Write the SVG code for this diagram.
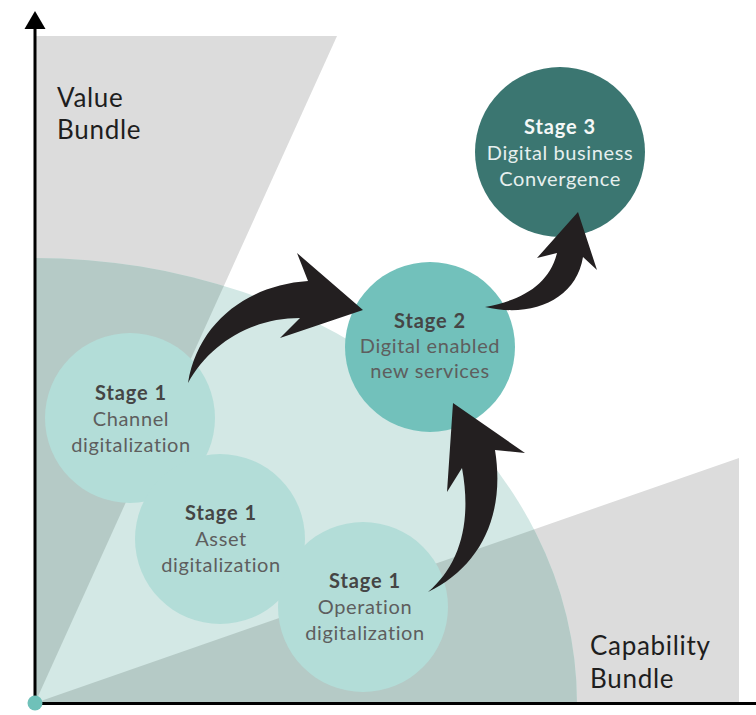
<svg xmlns="http://www.w3.org/2000/svg" width="756" height="715" viewBox="0 0 756 715">
<style>
.lbl{font-family:"Lato","Open Sans","Liberation Sans",sans-serif;font-size:26px;letter-spacing:0.7px;fill:#1e1e1e}
.t{font-family:"Lato","Open Sans","Liberation Sans",sans-serif;font-size:20px;letter-spacing:0.6px;text-anchor:middle;fill:#5e5e5e}
.b{font-weight:700;fill:#454545;letter-spacing:0.9px}
.w{fill:#e6efee}
.wb{font-weight:700;fill:#f4f8f7;letter-spacing:0.9px}
.s1{fill:#b3ddd8}
.arrow{fill:#231f20}
</style>
<defs>
<clipPath id="ell"><path d="M35,703 L35,258 A542,445 0 0 1 577,703 Z"/></clipPath>
</defs>
<g id="background">
<polygon points="35,36 337,36 35,703" fill="#dcdcdc"/>
<polygon points="35,703 739,458 739,703" fill="#dcdcdc"/>
<path d="M35,703 L35,258 A542,445 0 0 1 577,703 Z" fill="#d3e8e5"/>
<g clip-path="url(#ell)">
<polygon points="35,36 337,36 35,703" fill="#b5cac6"/>
<polygon points="35,703 739,458 739,703" fill="#b5cac6"/>
</g>
</g>
<g id="axes">
<line x1="35" y1="26" x2="35" y2="704" stroke="#000" stroke-width="3"/>
<polygon points="35,11 24.5,29 45.5,29" fill="#000"/>
<line x1="34" y1="703.5" x2="756" y2="703.5" stroke="#000" stroke-width="3"/>
<circle cx="35" cy="703" r="7.5" fill="#6fc1b9"/>
</g>
<g id="value-bundle">
<text class="lbl" x="57" y="107">Value</text>
<text class="lbl" x="57" y="139">Bundle</text>
</g>
<g id="capability-bundle">
<text class="lbl" x="590" y="655">Capability</text>
<text class="lbl" x="590" y="688">Bundle</text>
</g>
<g id="stage1-channel">
<circle class="s1" cx="130" cy="418" r="85"/>
<text class="t b" x="131" y="400">Stage 1</text>
<text class="t" x="131" y="426">Channel</text>
<text class="t" x="131" y="452">digitalization</text>
</g>
<g id="stage1-asset">
<circle class="s1" cx="220" cy="539" r="85"/>
<text class="t b" x="221" y="520">Stage 1</text>
<text class="t" x="221" y="546">Asset</text>
<text class="t" x="221" y="572">digitalization</text>
</g>
<g id="stage1-operation">
<circle class="s1" cx="363" cy="607" r="85"/>
<text class="t b" x="365" y="588">Stage 1</text>
<text class="t" x="365" y="614">Operation</text>
<text class="t" x="365" y="640">digitalization</text>
</g>
<g id="stage2">
<circle cx="430" cy="347" r="85" fill="#72c1bb"/>
<text class="t b" x="430" y="328">Stage 2</text>
<text class="t" x="430" y="353">Digital enabled</text>
<text class="t" x="430" y="378">new services</text>
</g>
<g id="stage3">
<circle cx="560" cy="152" r="85" fill="#3b7671"/>
<text class="t wb" x="560" y="134">Stage 3</text>
<text class="t w" x="560" y="160">Digital business</text>
<text class="t w" x="560" y="186">Convergence</text>
</g>
<g id="connectors">
<path class="arrow" d="M188,383 C198,322 248,285 308,281 L297,253 L363,310 L280,338 L300,318 C252,318 210,343 188,383 Z"/>
<path class="arrow" d="M428,592 C478,568 506,518 495,450 L525,453 L453,403 L447,492 L462,468 C472,522 460,565 428,592 Z"/>
<path class="arrow" d="M485,307 C522,300 549,285 557,253 L537,258 L578,212 L597,270 L583,257 C576,300 532,318 485,307 Z"/>
</g>
</svg>
